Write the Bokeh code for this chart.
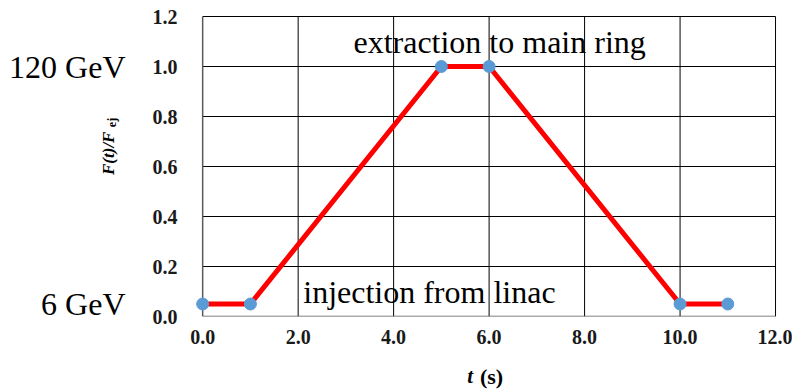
from bokeh.plotting import figure
from bokeh.models import Range1d, LinearAxis, NumeralTickFormatter, FixedTicker, Label
from bokeh.embed import file_html
from bokeh.resources import INLINE

# ---- data ----
t_s = [0, 1, 5, 6, 10, 11]
f_ratio = [0.05, 0.05, 1.0, 1.0, 0.05, 0.05]
x_ticks = [0, 2, 4, 6, 8, 10, 12]
y_ticks = [0.0, 0.2, 0.4, 0.6, 0.8, 1.0, 1.2]
energy_labels = ["120 GeV", "6 GeV"]
energy_levels = [1.0, 0.05]
notes = ["extraction to main ring", "injection from linac"]
note_x = [6.22, 4.75]
note_y = [1.10, 0.10]

SERIF = "Liberation Serif"
NB = "\u00a0"
W, H = 792, 391

p = figure(width=W, height=H, output_backend="svg", toolbar_location=None,
           x_range=Range1d(-0.15, 12.02), y_range=Range1d(0, 1.204),
           min_border_left=195, min_border_right=16, min_border_top=15,
           min_border_bottom=74)
p.outline_line_color = None
p.grid.visible = False
p.background_fill_color = "white"
p.border_fill_color = "white"

# grid lines (black) and grey frame lines
xmax, ymax = x_ticks[-1], y_ticks[-1]
vx = x_ticks[1:]
p.segment(x0=vx, x1=vx, y0=[0] * len(vx), y1=[ymax] * len(vx),
          line_color="black", line_width=1)
hy = y_ticks[1:]
p.segment(x0=[0] * len(hy), x1=[xmax] * len(hy), y0=hy, y1=hy,
          line_color="black", line_width=1)
p.segment(x0=[0, 0], x1=[0, xmax], y0=[0, 0], y1=[ymax, 0],
          line_color="#595959", line_width=1.5)

# data
p.line(t_s, f_ratio, line_color="#FF0000", line_width=5)
p.scatter(t_s, f_ratio, size=12, fill_color="#5B9BD5", line_color="#5B9BD5")


def bare(ax):
    ax.axis_line_color = None
    ax.major_tick_line_color = None
    ax.minor_tick_line_color = None
    ax.major_tick_out = 0
    ax.major_tick_in = 0
    ax.minor_tick_out = 0
    ax.minor_tick_in = 0


# main axes
for ax in (p.xaxis[0], p.yaxis[0]):
    bare(ax)
    ax.major_label_text_font = SERIF
    ax.major_label_text_font_style = "bold"
    ax.major_label_text_font_size = "20px"
    ax.major_label_text_color = "#1a1a1a"
    ax.formatter = NumeralTickFormatter(format="0.0")
p.xaxis[0].ticker = FixedTicker(ticks=x_ticks)
p.yaxis[0].ticker = FixedTicker(ticks=y_ticks)
p.xaxis[0].major_label_standoff = 13
p.yaxis[0].major_label_standoff = 18


def label_axis(text, style, size, standoff):
    ax = LinearAxis(ticker=FixedTicker(ticks=[]),
                    axis_label=text, axis_label_standoff=standoff,
                    axis_label_text_font=SERIF,
                    axis_label_text_font_style=style,
                    axis_label_text_font_size=size,
                    axis_label_text_color="black",
                    major_label_standoff=0)
    bare(ax)
    return ax


# y axis title  F(t)/F_ej  (subscript as its own small label)
p.add_layout(label_axis(NB * 29 + "ej", "bold", "12px", 31), "left")
p.add_layout(label_axis(NB * 6 + "F(t)/F", "bold italic", "17px", -16), "left")

# energy labels on the far left
e_ax = LinearAxis(ticker=FixedTicker(ticks=energy_levels),
                  major_label_overrides={lv: tx for lv, tx in zip(energy_levels, energy_labels)},
                  major_label_standoff=-30,
                  major_label_text_font=SERIF,
                  major_label_text_font_size="32px",
                  major_label_text_color="black")
bare(e_ax)
p.add_layout(e_ax, "left")

# x axis title  t (s)
p.add_layout(label_axis("t" + NB * 6, "bold italic", "21px", 17), "below")
p.add_layout(label_axis(NB * 2 + "(s)", "bold", "22px", -27), "below")

# annotations in the plot
for txt, nx, ny in zip(notes, note_x, note_y):
    p.add_layout(Label(x=nx, y=ny, text=txt, text_align="center",
                       text_baseline="middle", text_font=SERIF,
                       text_font_size="32px", text_color="black"))

open("out.html", "w").write(file_html(p, INLINE))
